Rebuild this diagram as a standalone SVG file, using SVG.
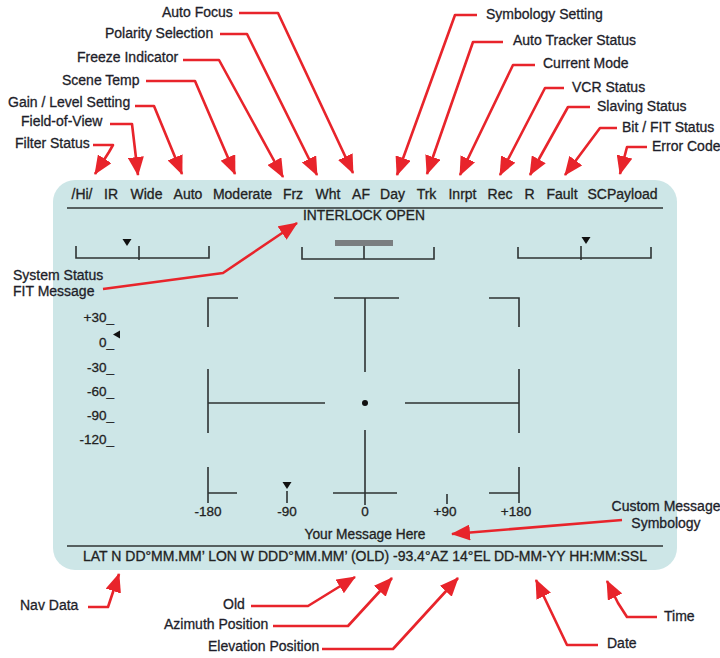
<svg xmlns="http://www.w3.org/2000/svg" width="720" height="658" viewBox="0 0 720 658">
<defs>
<style>
text{font-family:"Liberation Sans",Arial,Helvetica,sans-serif;fill:#222;stroke:#222;stroke-width:0.3;}
.t{font-size:14px;text-anchor:middle;}
.lb{font-size:14px;fill:#1e1e2a;stroke:#1e1e2a;}
.sc{font-size:13.5px;}
.k{stroke:#2e3333;stroke-width:1.6;fill:none;}
.red{stroke:#e8242b;stroke-width:2.6;fill:none;stroke-linejoin:round;marker-end:url(#ah);}
</style>
<marker id="ah" viewBox="0 0 19 16" refX="18" refY="8" markerWidth="19" markerHeight="16" orient="auto" markerUnits="userSpaceOnUse">
<path d="M0,0 L19,8 L0,16 Z" fill="#e8242b"/>
</marker>
</defs>
<rect width="720" height="658" fill="#ffffff"/>

<g id="screen">
<rect x="53" y="180" width="624" height="390" rx="22" fill="#cde6e7"/>
<g id="top-row">
<text class="t" x="82" y="199">/Hi/</text>
<text class="t" x="111" y="199">IR</text>
<text class="t" x="146.5" y="199">Wide</text>
<text class="t" x="188" y="199">Auto</text>
<text class="t" x="242.5" y="199">Moderate</text>
<text class="t" x="293" y="199">Frz</text>
<text class="t" x="328" y="199">Wht</text>
<text class="t" x="361" y="199">AF</text>
<text class="t" x="392.5" y="199">Day</text>
<text class="t" x="426.5" y="199">Trk</text>
<text class="t" x="462.5" y="199">Inrpt</text>
<text class="t" x="500" y="199">Rec</text>
<text class="t" x="529.5" y="199">R</text>
<text class="t" x="562" y="199">Fault</text>
<text class="t" x="622.5" y="199">SCPayload</text>
</g>
<line class="k" x1="67" y1="208" x2="663" y2="208"/>
<text class="t" x="364" y="220" textLength="122" lengthAdjust="spacingAndGlyphs">INTERLOCK OPEN</text>

<g id="scale-left">
<path class="k" d="M76,246 V258 H209 V246 M139,246 V260"/>
<path d="M122.5,239 L131.5,239 L127,246 Z" fill="#111"/>
</g>
<g id="scale-center">
<rect x="335" y="240" width="58" height="6" fill="#7a7e80"/>
<path class="k" d="M302,247 V259 H434 V247 M364,246 V259"/>
</g>
<g id="scale-right">
<path class="k" d="M518,247 V258 H651 V247 M581,246 V260"/>
<path d="M581.5,237 L590.5,237 L586,244 Z" fill="#111"/>
</g>

<g id="elevation-scale">
<text class="sc" x="114" y="322" text-anchor="end">+30_</text>
<text class="sc" x="114" y="347" text-anchor="end">0_</text>
<text class="sc" x="114" y="372" text-anchor="end">-30_</text>
<text class="sc" x="114" y="396" text-anchor="end">-60_</text>
<text class="sc" x="114" y="420" text-anchor="end">-90_</text>
<text class="sc" x="114" y="444" text-anchor="end">-120_</text>
<path d="M113,334.5 L120,330.5 L120,338.5 Z" fill="#111"/>
</g>

<g id="reticle">
<path class="k" d="M208,327 V298 H238"/>
<path class="k" d="M334,298 H399 M365,298 V372"/>
<path class="k" d="M489,298 H519 V327"/>
<path class="k" d="M208,369 V433 M208,403 H325"/>
<path class="k" d="M405,403 H519 M519,369 V433"/>
<circle cx="365" cy="403" r="3" fill="#111"/>
<path class="k" d="M208,467 V503 M208,493 H237"/>
<path class="k" d="M333,493 H397 M365,430 V505"/>
<path class="k" d="M489,493 H519 M519,467 V503"/>
<path class="k" d="M287,491 V503 M447,494 V504"/>
<path d="M282.5,482 L291.5,482 L287,489 Z" fill="#111"/>
</g>
<g id="azimuth-scale">
<text class="sc" x="208" y="516" text-anchor="middle">-180</text>
<text class="sc" x="287" y="516" text-anchor="middle">-90</text>
<text class="sc" x="365" y="516" text-anchor="middle">0</text>
<text class="sc" x="445" y="516" text-anchor="middle">+90</text>
<text class="sc" x="516" y="516" text-anchor="middle">+180</text>
</g>
<text class="t" x="365" y="539" textLength="121" lengthAdjust="spacingAndGlyphs">Your Message Here</text>
<line class="k" x1="67" y1="546" x2="663" y2="546"/>
<text x="83" y="561" font-size="14" textLength="564" lengthAdjust="spacingAndGlyphs">LAT N DD°MM.MM’ LON W DDD°MM.MM’ (OLD) -93.4°AZ 14°EL DD-MM-YY HH:MM:SSL</text>
</g>

<g id="connectors">
<path class="red" d="M239,13 L278,13 L353,173"/>
<path class="red" d="M220,34 L247,34 L317,175"/>
<path class="red" d="M183,60 L219,60 L283,177"/>
<path class="red" d="M146,81 L195,81 L235,174"/>
<path class="red" d="M135,106 L154,106 L182,174"/>
<path class="red" d="M110,124 L132,124 L138,175"/>
<path class="red" d="M93,145 L113,145 L109,152 L95,174"/>
<path class="red" d="M477,15 L455,15 L397,175"/>
<path class="red" d="M503,42 L473,42 L427,174"/>
<path class="red" d="M535,65 L513,65 L460,175"/>
<path class="red" d="M564,88 L545,88 L500,175"/>
<path class="red" d="M590,107 L568,107 L530,175"/>
<path class="red" d="M617,128 L600,128 L565,175"/>
<path class="red" d="M647,147 L627,147 L620,174"/>
<path class="red" d="M103,289 L223,273 L297,223"/>
<path class="red" d="M622,520 L452,534"/>
<path class="red" d="M88,607 L108,607 L119,574"/>
<path class="red" d="M251,606 L308,606 L355,577"/>
<path class="red" d="M273,626 L348,626 L392,578"/>
<path class="red" d="M322,649 L393,649 L458,578"/>
<path class="red" d="M598,645 L567,645 L536,580"/>
<path class="red" d="M657,617 L627,617 L618,603 L607,581"/>
</g>

<g id="label-auto-focus"><text class="lb" x="162" y="17">Auto Focus</text></g>
<g id="label-polarity"><text class="lb" x="105" y="38">Polarity Selection</text></g>
<g id="label-freeze"><text class="lb" x="77" y="62">Freeze Indicator</text></g>
<g id="label-scene-temp"><text class="lb" x="62" y="85">Scene Temp</text></g>
<g id="label-gain"><text class="lb" x="8" y="107">Gain / Level Setting</text></g>
<g id="label-fov"><text class="lb" x="21" y="126">Field-of-View</text></g>
<g id="label-filter"><text class="lb" x="15" y="148">Filter Status</text></g>
<g id="label-symbology"><text class="lb" x="486" y="19">Symbology Setting</text></g>
<g id="label-tracker"><text class="lb" x="513" y="45">Auto Tracker Status</text></g>
<g id="label-mode"><text class="lb" x="543" y="68">Current Mode</text></g>
<g id="label-vcr"><text class="lb" x="572" y="92">VCR Status</text></g>
<g id="label-slaving"><text class="lb" x="597" y="111">Slaving Status</text></g>
<g id="label-bit"><text class="lb" x="622" y="132">Bit / FIT Status</text></g>
<g id="label-error"><text class="lb" x="652" y="151">Error Code</text></g>
<g id="label-system"><text class="lb" x="13" y="280">System Status</text><text class="lb" x="13" y="296">FIT Message</text></g>
<g id="label-custom"><text class="lb" x="666" y="511" text-anchor="middle">Custom Message</text><text class="lb" x="666" y="528" text-anchor="middle">Symbology</text></g>
<g id="label-nav"><text class="lb" x="20" y="610">Nav Data</text></g>
<g id="label-old"><text class="lb" x="223" y="609">Old</text></g>
<g id="label-azimuth"><text class="lb" x="164" y="629">Azimuth Position</text></g>
<g id="label-elevation"><text class="lb" x="208" y="651">Elevation Position</text></g>
<g id="label-date"><text class="lb" x="607" y="648">Date</text></g>
<g id="label-time"><text class="lb" x="664" y="621">Time</text></g>
</svg>
